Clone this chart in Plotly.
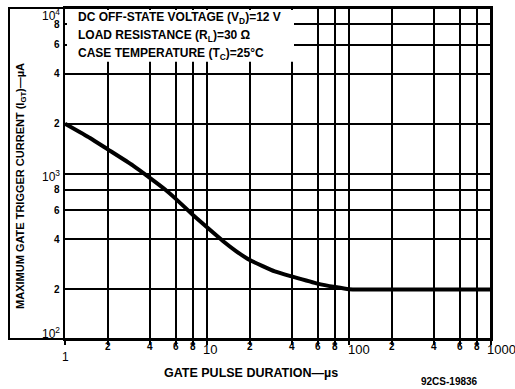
import numpy as np
import plotly.graph_objects as go

# Data
pulse_us = [1, 1.5, 2, 3, 4, 5, 6, 8, 10, 13, 16, 20, 30, 40, 60, 80, 100, 200, 400, 1000]
igt_ua = [2000, 1640, 1400, 1120, 935, 808, 705, 560, 473, 390, 340, 300, 256, 238, 216, 206, 200, 199, 199, 199]

x_grid = [1, 2, 4, 6, 8, 10, 20, 40, 60, 80, 100, 200, 400, 600, 800, 1000]
x_labels = ["1", "2", "4", "6", "8", "10", "2", "4", "6", "8", "100", "2", "4", "6", "8", "1000"]
y_grid = [100, 200, 400, 600, 800, 1000, 2000, 4000, 6000, 8000, 10000]
y_labels = ["10<sup>2</sup>", "2", "4", "6", "8", "10<sup>3</sup>", "2", "4", "6", "8", "10<sup>4</sup>"]

info_lines = [
    "DC OFF-STATE VOLTAGE (V<sub>D</sub>)=12 V",
    "LOAD RESISTANCE (R<sub>L</sub>)=30 Ω",
    "CASE TEMPERATURE (T<sub>C</sub>)=25°C",
]

FONT = "Liberation Sans"
INK = "#000000"

fig = go.Figure()
fig.add_trace(go.Scatter(
    x=pulse_us, y=igt_ua, mode="lines",
    line=dict(color=INK, width=4, shape="spline", smoothing=0.4),
    hoverinfo="skip", showlegend=False,
))

W, H = 515, 389
L, R, T, B = 65, 24, 6, 50
pw = W - L - R
ph = H - T - B

def px_x(p):
    return (p - L) / pw

def px_y(p):
    return (H - B - p) / ph

fig.update_layout(
    width=W, height=H,
    margin=dict(l=L, r=R, t=T, b=B, pad=0),
    paper_bgcolor="white", plot_bgcolor="white",
    showlegend=False,
    font=dict(family=FONT, color=INK),
    xaxis=dict(
        type="log", range=[0, 3], tickvals=x_grid, showticklabels=False,
        showgrid=True, gridcolor=INK, gridwidth=1.6,
        showline=True, linecolor=INK, linewidth=2, mirror=True,
        ticks="outside", ticklen=4, tickcolor=INK, tickwidth=1.6, zeroline=False,
    ),
    yaxis=dict(
        type="log", range=[2, 4], tickvals=y_grid, showticklabels=False,
        showgrid=True, gridcolor=INK, gridwidth=1.6,
        showline=True, linecolor=INK, linewidth=2, mirror=True,
        ticks="", zeroline=False,
    ),
)

shapes = []
# outer frame enclosing the y tick labels and title
shapes.append(dict(type="rect", xref="paper", yref="paper",
                   x0=px_x(9), x1=1, y0=0, y1=1,
                   line=dict(color=INK, width=2), fillcolor="rgba(0,0,0,0)", layer="above"))
# white panel behind the condition text
shapes.append(dict(type="rect", xref="paper", yref="paper",
                   x0=px_x(67), x1=px_x(294), y0=px_y(60), y1=px_y(8),
                   line=dict(width=0), fillcolor="white", layer="above"))
fig.update_layout(shapes=shapes)

ann = []
# x tick labels
for v, lab in zip(x_grid, x_labels):
    lv = np.log10(v)
    if lab == "1":
        ann.append(dict(x=lv, xref="x", y=0, yref="paper", text="1", showarrow=False,
                        xanchor="center", yanchor="top", yshift=-9,
                        font=dict(size=12, family=FONT, color=INK)))
    elif lab in ("10", "100", "1000"):
        xs = {"10": -6, "100": -3, "1000": -6}[lab]
        ann.append(dict(x=lv, xref="x", y=0, yref="paper", text=lab, showarrow=False,
                        xanchor="left", yanchor="top", yshift=-1, xshift=xs,
                        font=dict(size=13, family=FONT, color=INK)))
    else:
        ann.append(dict(x=lv, xref="x", y=0, yref="paper", text="<b>%s</b>" % lab, showarrow=False,
                        xanchor="center", yanchor="top", yshift=0,
                        font=dict(size=10, family=FONT, color=INK)))
# y tick labels
for v, lab in zip(y_grid, y_labels):
    lv = np.log10(v)
    if lab.startswith("10"):
        ys = {100: 6, 1000: -2, 10000: -7}[v]
        ann.append(dict(x=0, xref="paper", y=lv, yref="y", text=lab, showarrow=False,
                        xanchor="right", yanchor="middle", xshift=-3, yshift=ys,
                        font=dict(size=12, family=FONT, color=INK)))
    else:
        ann.append(dict(x=0, xref="paper", y=lv, yref="y", text="<b>%s</b>" % lab, showarrow=False,
                        xanchor="right", yanchor="middle", xshift=-3,
                        font=dict(size=10, family=FONT, color=INK)))
# condition text
for i, line in enumerate(info_lines):
    ann.append(dict(x=px_x(76), xref="paper", y=px_y(16 + 18 * i), yref="paper",
                    text="<b>%s</b>" % line, showarrow=False,
                    xanchor="left", yanchor="middle",
                    font=dict(size=12, family=FONT, color=INK)))
# axis titles
ann.append(dict(x=px_x(251), xref="paper", y=px_y(373), yref="paper",
                text="<b>GATE PULSE DURATION—µs</b>", showarrow=False,
                xanchor="center", yanchor="middle",
                font=dict(size=12.5, family=FONT, color=INK)))
ann.append(dict(x=px_x(21), xref="paper", y=px_y(185), yref="paper",
                text="<b>MAXIMUM GATE TRIGGER CURRENT (I<sub>GT</sub>)—µA</b>", showarrow=False,
                textangle=-90, xanchor="center", yanchor="middle",
                font=dict(size=11, family=FONT, color=INK)))
ann.append(dict(x=px_x(449), xref="paper", y=px_y(382), yref="paper",
                text="<b>92CS-19836</b>", showarrow=False,
                xanchor="center", yanchor="middle",
                font=dict(size=10, family=FONT, color=INK)))
fig.update_layout(annotations=ann)

fig.write_html("out.html")
